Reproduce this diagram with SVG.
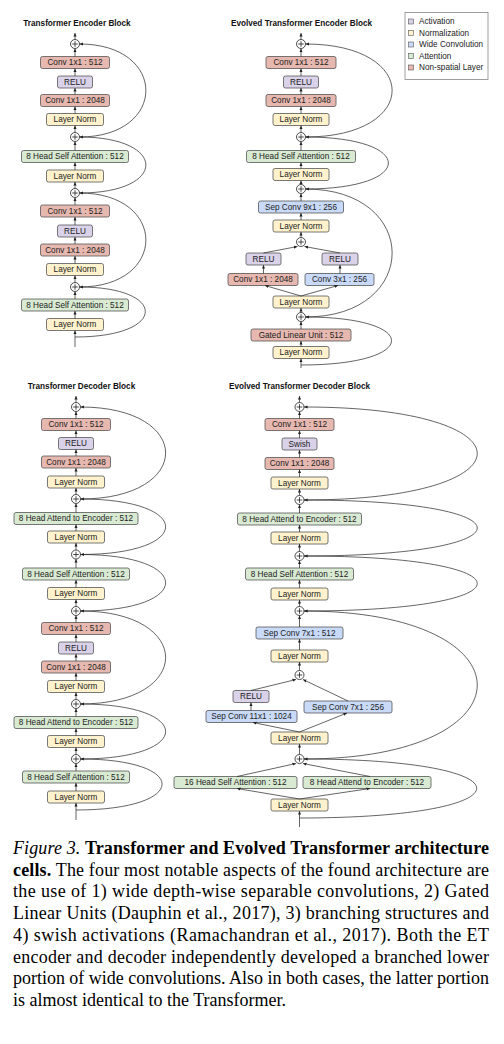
<svg xmlns="http://www.w3.org/2000/svg" xmlns:xlink="http://www.w3.org/1999/xlink" width="504" height="1044" viewBox="0 0 504 1044">
  <defs>
    <style>
      .b rect { stroke: #555; stroke-width: 0.8; }
      .red rect { fill: #e6b8af; }
      .pur rect { fill: #d9d2e9; }
      .yel rect { fill: #fff2cc; }
      .grn rect { fill: #d9ead3; }
      .blu rect { fill: #c9daf8; }
      text.t { font-family: "Liberation Sans", Arial, sans-serif; font-size: 8.2px; fill: #222; text-anchor: middle; }
      text.h { font-family: "Liberation Sans", Arial, sans-serif; font-size: 8.2px; font-weight: bold; fill: #111; text-anchor: middle; }
      text.lg { font-family: "Liberation Sans", Arial, sans-serif; font-size: 8.2px; fill: #222; }
      .c path { stroke: #222; stroke-width: 0.7; fill: none; marker-end: url(#ah); }
      .plus circle { fill: #fff; stroke: #222; stroke-width: 0.8; }
      .plus path { stroke: #222; stroke-width: 0.8; fill: none; }
      text.cap { font-family: "Liberation Serif", "Times New Roman", serif; font-size: 18px; fill: #000; }
    </style>
    <marker id="ah" viewBox="0 0 6 6" refX="6" refY="3" markerWidth="3.6" markerHeight="3.6" markerUnits="userSpaceOnUse" orient="auto">
      <path d="M0,0.4 L6,3 L0,5.6 z" fill="#222"/>
    </marker>
    <g id="add" class="plus">
      <circle r="4.5"/>
      <path d="M-2.8,0H2.8M0,-2.8V2.8"/>
    </g>
  </defs>
  <rect width="504" height="1044" fill="#fff"/>

  <!-- ===================== Transformer Encoder Block ===================== -->
  <text class="h" x="77" y="26">Transformer Encoder Block</text>
  <g id="tl-conv1" class="b red"><rect x="40.5" y="56.5" width="69" height="12" rx="2"/><text class="t" x="75" y="65.4">Conv 1x1 : 512</text></g>
  <g id="tl-relu1" class="b pur"><rect x="57.5" y="76" width="35" height="12" rx="2"/><text class="t" x="75" y="84.9">RELU</text></g>
  <g id="tl-conv2" class="b red"><rect x="40.5" y="94.5" width="69" height="12" rx="2"/><text class="t" x="75" y="103.4">Conv 1x1 : 2048</text></g>
  <g id="tl-ln1" class="b yel"><rect x="46.5" y="113.5" width="57" height="12" rx="2"/><text class="t" x="75" y="122.4">Layer Norm</text></g>
  <g id="tl-att1" class="b grn"><rect x="21.5" y="150.5" width="107" height="12" rx="2"/><text class="t" x="75" y="159.4">8 Head Self Attention : 512</text></g>
  <g id="tl-ln2" class="b yel"><rect x="46.5" y="170" width="57" height="12" rx="2"/><text class="t" x="75" y="178.9">Layer Norm</text></g>
  <g id="tl-conv3" class="b red"><rect x="40.5" y="205" width="69" height="12" rx="2"/><text class="t" x="75" y="213.9">Conv 1x1 : 512</text></g>
  <g id="tl-relu2" class="b pur"><rect x="57.5" y="225" width="35" height="12" rx="2"/><text class="t" x="75" y="233.9">RELU</text></g>
  <g id="tl-conv4" class="b red"><rect x="40.5" y="244" width="69" height="12" rx="2"/><text class="t" x="75" y="252.9">Conv 1x1 : 2048</text></g>
  <g id="tl-ln3" class="b yel"><rect x="46.5" y="263.5" width="57" height="12" rx="2"/><text class="t" x="75" y="272.4">Layer Norm</text></g>
  <g id="tl-att2" class="b grn"><rect x="21.5" y="299" width="107" height="12" rx="2"/><text class="t" x="75" y="307.9">8 Head Self Attention : 512</text></g>
  <g id="tl-ln4" class="b yel"><rect x="46.5" y="318.5" width="57" height="12" rx="2"/><text class="t" x="75" y="327.4">Layer Norm</text></g>
  <g id="tl-add1"><use xlink:href="#add" x="75" y="44"/></g>
  <g id="tl-add2"><use xlink:href="#add" x="75" y="137"/></g>
  <g id="tl-add3"><use xlink:href="#add" x="75" y="193"/></g>
  <g id="tl-add4"><use xlink:href="#add" x="75" y="287"/></g>

  <!-- ================= Evolved Transformer Encoder Block ================= -->
  <text class="h" x="301.5" y="26">Evolved Transformer Encoder Block</text>
  <g id="tr-conv1" class="b red"><rect x="266" y="56.5" width="70" height="12" rx="2"/><text class="t" x="301" y="65.4">Conv 1x1 : 512</text></g>
  <g id="tr-relu1" class="b pur"><rect x="283.5" y="76" width="35" height="12" rx="2"/><text class="t" x="301" y="84.9">RELU</text></g>
  <g id="tr-conv2" class="b red"><rect x="266" y="94.5" width="70" height="12" rx="2"/><text class="t" x="301" y="103.4">Conv 1x1 : 2048</text></g>
  <g id="tr-ln1" class="b yel"><rect x="273" y="113.5" width="56" height="12" rx="2"/><text class="t" x="301" y="122.4">Layer Norm</text></g>
  <g id="tr-att" class="b grn"><rect x="246.5" y="150.5" width="109" height="12" rx="2"/><text class="t" x="301" y="159.4">8 Head Self Attention : 512</text></g>
  <g id="tr-ln2" class="b yel"><rect x="273" y="168.5" width="56" height="12" rx="2"/><text class="t" x="301" y="177.4">Layer Norm</text></g>
  <g id="tr-sep9" class="b blu"><rect x="258.5" y="201" width="85" height="12" rx="2"/><text class="t" x="301" y="209.9">Sep Conv 9x1 : 256</text></g>
  <g id="tr-ln3" class="b yel"><rect x="273" y="220" width="56" height="12" rx="2"/><text class="t" x="301" y="228.9">Layer Norm</text></g>
  <g id="tr-relul" class="b pur"><rect x="246" y="253" width="35" height="12" rx="2"/><text class="t" x="263.5" y="261.9">RELU</text></g>
  <g id="tr-relur" class="b pur"><rect x="322" y="253" width="36" height="12" rx="2"/><text class="t" x="340" y="261.9">RELU</text></g>
  <g id="tr-convl" class="b red"><rect x="228" y="273.5" width="70" height="12" rx="2"/><text class="t" x="263" y="282.4">Conv 1x1 : 2048</text></g>
  <g id="tr-convr" class="b blu"><rect x="305" y="273.5" width="69" height="12" rx="2"/><text class="t" x="339.5" y="282.4">Conv 3x1 : 256</text></g>
  <g id="tr-ln4" class="b yel"><rect x="273" y="296" width="56" height="12" rx="2"/><text class="t" x="301" y="304.9">Layer Norm</text></g>
  <g id="tr-glu" class="b red"><rect x="251" y="329" width="100" height="12" rx="2"/><text class="t" x="301" y="337.9">Gated Linear Unit : 512</text></g>
  <g id="tr-ln5" class="b yel"><rect x="273" y="346.5" width="56" height="12" rx="2"/><text class="t" x="301" y="355.4">Layer Norm</text></g>
  <g id="tr-add1"><use xlink:href="#add" x="301" y="44"/></g>
  <g id="tr-add2"><use xlink:href="#add" x="301" y="137"/></g>
  <g id="tr-add3"><use xlink:href="#add" x="301" y="189"/></g>
  <g id="tr-add4"><use xlink:href="#add" x="301" y="242"/></g>
  <g id="tr-add5"><use xlink:href="#add" x="301" y="317"/></g>

  <!-- ======================== Legend ======================== -->
  <g id="legend">
    <rect x="405" y="12.5" width="83" height="67" fill="#fff" stroke="#888" stroke-width="0.8"/>
    <rect x="408.5" y="19" width="5" height="5" fill="#d9d2e9" stroke="#555" stroke-width="0.6"/>
    <text class="lg" x="419" y="24.4">Activation</text>
    <rect x="408.5" y="30.5" width="5" height="5" fill="#fff2cc" stroke="#555" stroke-width="0.6"/>
    <text class="lg" x="419" y="35.9">Normalization</text>
    <rect x="408.5" y="42" width="5" height="5" fill="#c9daf8" stroke="#555" stroke-width="0.6"/>
    <text class="lg" x="419" y="47.4">Wide Convolution</text>
    <rect x="408.5" y="53.5" width="5" height="5" fill="#d9ead3" stroke="#555" stroke-width="0.6"/>
    <text class="lg" x="419" y="58.9">Attention</text>
    <rect x="408.5" y="65" width="5" height="5" fill="#e6b8af" stroke="#555" stroke-width="0.6"/>
    <text class="lg" x="419" y="70.4">Non-spatial Layer</text>
  </g>

  <!-- ===================== Transformer Decoder Block ===================== -->
  <text class="h" x="81.5" y="389">Transformer Decoder Block</text>
  <g id="bl-conv1" class="b red"><rect x="41.5" y="418.5" width="69" height="12" rx="2"/><text class="t" x="76" y="427.4">Conv 1x1 : 512</text></g>
  <g id="bl-relu1" class="b pur"><rect x="58.5" y="437.5" width="35" height="12" rx="2"/><text class="t" x="76" y="446.4">RELU</text></g>
  <g id="bl-conv2" class="b red"><rect x="41.5" y="456" width="69" height="12" rx="2"/><text class="t" x="76" y="464.9">Conv 1x1 : 2048</text></g>
  <g id="bl-ln1" class="b yel"><rect x="47.5" y="476" width="57" height="12" rx="2"/><text class="t" x="76" y="484.9">Layer Norm</text></g>
  <g id="bl-enc1" class="b grn"><rect x="14" y="512.5" width="124" height="12" rx="2"/><text class="t" x="76" y="521.4">8 Head Attend to Encoder : 512</text></g>
  <g id="bl-ln2" class="b yel"><rect x="47.5" y="531" width="57" height="12" rx="2"/><text class="t" x="76" y="539.9">Layer Norm</text></g>
  <g id="bl-self1" class="b grn"><rect x="22.5" y="568" width="107" height="12" rx="2"/><text class="t" x="76" y="576.9">8 Head Self Attention : 512</text></g>
  <g id="bl-ln3" class="b yel"><rect x="47.5" y="587.5" width="57" height="12" rx="2"/><text class="t" x="76" y="596.4">Layer Norm</text></g>
  <g id="bl-conv3" class="b red"><rect x="41.5" y="622.5" width="69" height="12" rx="2"/><text class="t" x="76" y="631.4">Conv 1x1 : 512</text></g>
  <g id="bl-relu2" class="b pur"><rect x="58.5" y="642" width="35" height="12" rx="2"/><text class="t" x="76" y="650.9">RELU</text></g>
  <g id="bl-conv4" class="b red"><rect x="41.5" y="661" width="69" height="12" rx="2"/><text class="t" x="76" y="669.9">Conv 1x1 : 2048</text></g>
  <g id="bl-ln4" class="b yel"><rect x="47.5" y="680.5" width="57" height="12" rx="2"/><text class="t" x="76" y="689.4">Layer Norm</text></g>
  <g id="bl-enc2" class="b grn"><rect x="14" y="716.5" width="124" height="12" rx="2"/><text class="t" x="76" y="725.4">8 Head Attend to Encoder : 512</text></g>
  <g id="bl-ln5" class="b yel"><rect x="47.5" y="735.5" width="57" height="12" rx="2"/><text class="t" x="76" y="744.4">Layer Norm</text></g>
  <g id="bl-self2" class="b grn"><rect x="22.5" y="771" width="107" height="12" rx="2"/><text class="t" x="76" y="779.9">8 Head Self Attention : 512</text></g>
  <g id="bl-ln6" class="b yel"><rect x="47.5" y="791" width="57" height="12" rx="2"/><text class="t" x="76" y="799.9">Layer Norm</text></g>
  <g id="bl-add1"><use xlink:href="#add" x="76" y="407"/></g>
  <g id="bl-add2"><use xlink:href="#add" x="76" y="499"/></g>
  <g id="bl-add3"><use xlink:href="#add" x="76" y="554.5"/></g>
  <g id="bl-add4"><use xlink:href="#add" x="76" y="611"/></g>
  <g id="bl-add5"><use xlink:href="#add" x="76" y="704"/></g>
  <g id="bl-add6"><use xlink:href="#add" x="76" y="759"/></g>

  <!-- ================= Evolved Transformer Decoder Block ================= -->
  <text class="h" x="299.5" y="389">Evolved Transformer Decoder Block</text>
  <g id="br-conv1" class="b red"><rect x="265" y="418.5" width="69" height="12" rx="2"/><text class="t" x="299.5" y="427.4">Conv 1x1 : 512</text></g>
  <g id="br-swish" class="b pur"><rect x="282" y="438" width="35" height="12" rx="2"/><text class="t" x="299.5" y="446.9">Swish</text></g>
  <g id="br-conv2" class="b red"><rect x="265" y="457.5" width="69" height="12" rx="2"/><text class="t" x="299.5" y="466.4">Conv 1x1 : 2048</text></g>
  <g id="br-ln1" class="b yel"><rect x="271" y="477" width="57" height="12" rx="2"/><text class="t" x="299.5" y="485.9">Layer Norm</text></g>
  <g id="br-enc" class="b grn"><rect x="237.5" y="513" width="124" height="12" rx="2"/><text class="t" x="299.5" y="521.9">8 Head Attend to Encoder : 512</text></g>
  <g id="br-ln2" class="b yel"><rect x="271" y="532" width="57" height="12" rx="2"/><text class="t" x="299.5" y="540.9">Layer Norm</text></g>
  <g id="br-self" class="b grn"><rect x="245.5" y="568" width="108" height="12" rx="2"/><text class="t" x="299.5" y="576.9">8 Head Self Attention : 512</text></g>
  <g id="br-ln3" class="b yel"><rect x="271" y="588" width="57" height="12" rx="2"/><text class="t" x="299.5" y="596.9">Layer Norm</text></g>
  <g id="br-sep7" class="b blu"><rect x="256" y="627" width="87" height="12" rx="2"/><text class="t" x="299.5" y="635.9">Sep Conv 7x1 : 512</text></g>
  <g id="br-ln4" class="b yel"><rect x="271" y="650" width="57" height="12" rx="2"/><text class="t" x="299.5" y="658.9">Layer Norm</text></g>
  <g id="br-relu" class="b pur"><rect x="233" y="690.5" width="36" height="12" rx="2"/><text class="t" x="251" y="699.4">RELU</text></g>
  <g id="br-sep11" class="b blu"><rect x="206" y="710.5" width="91" height="12" rx="2"/><text class="t" x="251.5" y="719.4">Sep Conv 11x1 : 1024</text></g>
  <g id="br-sep7b" class="b blu"><rect x="304" y="701" width="88" height="12" rx="2"/><text class="t" x="348" y="709.9">Sep Conv 7x1 : 256</text></g>
  <g id="br-ln5" class="b yel"><rect x="271" y="732" width="57" height="12" rx="2"/><text class="t" x="299.5" y="740.9">Layer Norm</text></g>
  <g id="br-self16" class="b grn"><rect x="174" y="776.5" width="123" height="12" rx="2"/><text class="t" x="235.5" y="785.4">16 Head Self Attention : 512</text></g>
  <g id="br-enc8" class="b grn"><rect x="303" y="776.5" width="128" height="12" rx="2"/><text class="t" x="367" y="785.4">8 Head Attend to Encoder : 512</text></g>
  <g id="br-ln6" class="b yel"><rect x="271" y="799" width="57" height="12" rx="2"/><text class="t" x="299.5" y="807.9">Layer Norm</text></g>
  <g id="br-add1"><use xlink:href="#add" x="299.5" y="407"/></g>
  <g id="br-add2"><use xlink:href="#add" x="299.5" y="500"/></g>
  <g id="br-add3"><use xlink:href="#add" x="299.5" y="556"/></g>
  <g id="br-add4"><use xlink:href="#add" x="299.5" y="611"/></g>
  <g id="br-add5"><use xlink:href="#add" x="299.5" y="675"/></g>
  <g id="br-add6"><use xlink:href="#add" x="299.5" y="759"/></g>

  <!-- ======================== Connectors ======================== -->
  <g id="connectors" class="c">
    <!-- encoder trunk -->
    <path d="M75,39.5V33"/><path d="M75,56.5V48.5"/><path d="M75,76V68.5"/><path d="M75,94.5V88"/>
    <path d="M75,113.5V106.5"/><path d="M75,132.5V125.5"/><path d="M75,150.5V141.5"/><path d="M75,170V162.5"/>
    <path d="M75,188.5V182"/><path d="M75,205V197.5"/><path d="M75,225V217"/><path d="M75,244V237"/>
    <path d="M75,263.5V256"/><path d="M75,282.5V275.5"/><path d="M75,299V291.5"/><path d="M75,318.5V311"/>
    <path d="M75,347V330.5"/>
    <!-- encoder residuals -->
    <path d="M79.5,137C168,137 168,44 79.5,44"/>
    <path d="M79.5,193C168,193 168,137 79.5,137"/>
    <path d="M79.5,287C168,287 168,193 79.5,193"/>
    <path d="M75,337C168,337 168,287 79.5,287"/>

    <!-- evolved encoder trunk -->
    <path d="M301,39.5V33"/><path d="M301,56.5V48.5"/><path d="M301,76V68.5"/><path d="M301,94.5V88"/>
    <path d="M301,113.5V106.5"/><path d="M301,132.5V125.5"/><path d="M301,150.5V141.5"/><path d="M301,168.5V162.5"/>
    <path d="M301,184.5V180.5"/><path d="M301,201V193.5"/><path d="M301,220V213"/><path d="M301,237.5V232"/>
    <path d="M301,312.5V308"/><path d="M301,329V321.5"/><path d="M301,346.5V341"/><path d="M301,368V358.5"/>
    <!-- evolved encoder branches -->
    <path d="M301,296L265,285.5"/><path d="M301,296L338,285.5"/>
    <path d="M263.5,273.5V265"/><path d="M340,273.5V265"/>
    <path d="M263.5,253L297.5,246.5"/><path d="M340,253L304.5,246.5"/>
    <!-- evolved encoder residuals -->
    <path d="M305.5,137C421,137 421,44 305.5,44"/>
    <path d="M305.5,189C416,189 416,137 305.5,137"/>
    <path d="M305.5,317C421,317 421,189 305.5,189"/>
    <path d="M301,365C421,365 421,317 305.5,317"/>

    <!-- decoder trunk -->
    <path d="M76,402.5V396"/><path d="M76,418.5V411.5"/><path d="M76,437.5V430.5"/><path d="M76,456V449.5"/>
    <path d="M76,476V468"/><path d="M76,494.5V488"/><path d="M76,512.5V503.5"/><path d="M76,531V524.5"/>
    <path d="M76,550V543"/><path d="M76,568V559"/><path d="M76,587.5V580"/><path d="M76,606.5V599.5"/>
    <path d="M76,622.5V615.5"/><path d="M76,642V634.5"/><path d="M76,661V654"/><path d="M76,680.5V673"/>
    <path d="M76,699.5V692.5"/><path d="M76,716.5V708.5"/><path d="M76,735.5V728.5"/><path d="M76,754.5V747.5"/>
    <path d="M76,771V763.5"/><path d="M76,791V783"/><path d="M76,820V803"/>
    <!-- decoder residuals -->
    <path d="M80.5,499C194,499 194,407 80.5,407"/>
    <path d="M80.5,554.5C194,554.5 194,499 80.5,499"/>
    <path d="M80.5,611C194,611 194,554.5 80.5,554.5"/>
    <path d="M80.5,704C194,704 194,611 80.5,611"/>
    <path d="M80.5,759C194,759 194,704 80.5,704"/>
    <path d="M76,810C190,810 190,759 80.5,759"/>

    <!-- evolved decoder trunk -->
    <path d="M299.5,402.5V396"/><path d="M299.5,418.5V411.5"/><path d="M299.5,438V430.5"/><path d="M299.5,457.5V450"/>
    <path d="M299.5,477V469.5"/><path d="M299.5,495.5V489"/><path d="M299.5,513V504.5"/><path d="M299.5,532V525"/>
    <path d="M299.5,551.5V544"/><path d="M299.5,568V560.5"/><path d="M299.5,588V580"/><path d="M299.5,606.5V600"/>
    <path d="M299.5,627V615.5"/><path d="M299.5,650V639"/><path d="M299.5,670.5V662"/>
    <path d="M299.5,754.5V744"/><path d="M299.5,827V811"/>
    <!-- evolved decoder branches -->
    <path d="M299.5,732L253,722.5"/><path d="M299.5,732L347,713"/>
    <path d="M251,710.5V702.5"/>
    <path d="M251,690.5L296,679.5"/><path d="M348,701L303,679.5"/>
    <path d="M299.5,799L237,788.5"/><path d="M299.5,799L370,788.5"/>
    <path d="M237,776.5L296,763.5"/><path d="M370,776.5L303,763.5"/>
    <!-- evolved decoder residuals -->
    <path d="M304,500C535,500 535,407 304,407"/>
    <path d="M304,556C535,556 535,500 304,500"/>
    <path d="M304,611C535,611 535,556 304,556"/>
    <path d="M304,759C535,759 535,611 304,611"/>
    <path d="M299.5,818C535,818 535,759 304,759"/>
  </g>

  <!-- ======================== Caption ======================== -->
  <g id="caption">
    <text class="cap" x="13" y="854" textLength="476" lengthAdjust="spacing"><tspan font-style="italic">Figure 3. </tspan><tspan font-weight="bold">Transformer and Evolved Transformer architecture</tspan></text>
    <text class="cap" x="13" y="875.7" textLength="476" lengthAdjust="spacing"><tspan font-weight="bold">cells.</tspan><tspan> The four most notable aspects of the found architecture are</tspan></text>
    <text class="cap" x="13" y="897.4" textLength="476" lengthAdjust="spacing">the use of 1) wide depth-wise separable convolutions, 2) Gated</text>
    <text class="cap" x="13" y="919.1" textLength="476" lengthAdjust="spacing">Linear Units (Dauphin et al., 2017), 3) branching structures and</text>
    <text class="cap" x="13" y="940.8" textLength="476" lengthAdjust="spacing">4) swish activations (Ramachandran et al., 2017).  Both the ET</text>
    <text class="cap" x="13" y="962.5" textLength="476" lengthAdjust="spacing">encoder and decoder independently developed a branched lower</text>
    <text class="cap" x="13" y="984.2" textLength="476" lengthAdjust="spacing">portion of wide convolutions. Also in both cases, the latter portion</text>
    <text class="cap" x="13" y="1005.9">is almost identical to the Transformer.</text>
  </g>
</svg>
